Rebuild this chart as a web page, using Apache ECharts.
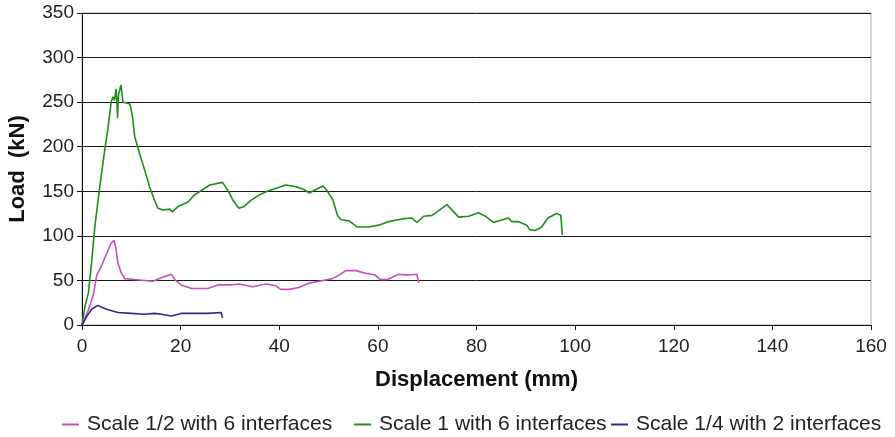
<!DOCTYPE html>
<html>
<head>
<meta charset="utf-8">
<script src="https://cdn.jsdelivr.net/npm/echarts@6/dist/echarts.min.js"></script>
<style>
  html, body { margin: 0; padding: 0; background: #ffffff; }
  #chart { width: 895px; height: 437px; }
</style>
</head>
<body>
<div id="chart"></div>
<script>
// Load–displacement curves of the three test specimens
var seriesNames = ['Scale 1/2 with 6 interfaces', 'Scale 1 with 6 interfaces', 'Scale 1/4 with 2 interfaces'];

// Scale 1/2, 6 interfaces
var halfDisp = [0, 1.3, 2.3, 3.0, 4.0, 5.0, 5.9, 6.5, 6.8, 7.3, 8.0, 8.7, 10.7, 12.7, 14.4, 16.1, 18.1, 18.8, 20.1, 22.2, 25.5, 27.5, 30.2, 31.9, 34.6, 37.3, 39.3, 40.3, 42, 44, 46.1, 48.1, 50.8, 52.1, 53.5, 55.5, 57.5, 59.5, 60.5, 61.9, 64.2, 66.3, 67.9, 68.3];
var halfLoad = [0, 17, 34, 56, 67, 80, 92, 95, 88, 69, 58, 52, 51, 50, 49, 53, 57, 51, 45, 41, 41, 45, 45, 46, 43, 46, 44, 40, 40, 42, 47, 49, 52, 56, 61, 61, 58, 56, 51, 51, 57, 56, 57, 47];

// Scale 1, 6 interfaces
var fullDisp = [0, 0.6, 1.3, 2.0, 2.6, 3.6, 4.6, 5.3, 5.9, 6.3, 6.6, 6.9, 7.1, 7.2, 7.4, 7.9, 8.3, 9.0, 9.7, 10.2, 10.7, 11.7, 12.7, 13.7, 14.7, 15.4, 16.4, 17.8, 18.3, 19.5, 21.5, 22.8, 24.5, 25.9, 28.5, 28.9, 29.8, 30.6, 31.8, 32.9, 34.3, 36, 38, 39.7, 41.3, 43.4, 45, 46.1, 47.4, 48.9, 49.8, 50.9, 51.8, 52.5, 54.1, 55.8, 58.2, 60.2, 62.2, 64.9, 66.9, 67.9, 69.3, 71, 74, 76.4, 78.4, 80.4, 81.8, 83.4, 86.5, 87.1, 88.5, 90.2, 90.8, 91.9, 93.2, 94.5, 96.2, 97.1, 97.4];
var fullLoad = [0, 21, 36, 73, 110, 155, 196, 222, 250, 256, 252, 265, 250, 232, 258, 269, 250, 249, 248, 235, 211, 192, 174, 155, 140, 131, 129, 130, 127, 133, 138, 146, 152, 157, 160, 161, 149, 140, 131, 133, 140, 146, 151, 154, 157, 155, 152, 148, 152, 156, 150, 140, 123, 118, 117, 110, 110, 112, 116, 119, 120, 115, 122, 123, 135, 121, 122, 126, 122, 115, 120, 116, 116, 112, 107, 106, 110, 120, 125, 123, 101];

// Scale 1/4, 2 interfaces
var quarterDisp = [0, 1.0, 2.0, 3.2, 4.0, 5.3, 7.3, 10, 12.7, 14.7, 16.1, 18.1, 20.1, 22.8, 25.5, 28.2, 28.5];
var quarterLoad = [0, 10, 18, 22, 20, 17, 14, 13, 12, 13, 12, 10, 13, 13, 13, 14, 8];

var xTicks = { min: 0, max: 160, step: 20 };
var yTicks = { min: 0, max: 350, step: 50 };

function pairs(xs, ys) {
  return xs.map(function (x, i) { return [x, ys[i]]; });
}

var colors = ['#c84fbe', '#1e8c1e', '#2b2b8c'];
var fontFamily = '"Liberation Sans", Arial, Helvetica, sans-serif';

function legendAt(name, left) {
  return {
    data: [name],
    left: left,
    top: 414,
    icon: 'rect',
    itemWidth: 17,
    itemHeight: 2,
    padding: 0,
    textStyle: { fontFamily: fontFamily, fontSize: 21, color: '#222', padding: [0, 0, 0, 3] }
  };
}

var chart = echarts.init(document.getElementById('chart'), null, { renderer: 'canvas' });

chart.setOption({
  animation: false,
  color: colors,
  grid: {
    left: 82, right: 24, top: 13, bottom: 112,
    outerBoundsMode: 'none',
    containLabel: false,
    show: true, borderColor: '#a8a8a8', borderWidth: 1
  },
  legend: [
    legendAt(seriesNames[0], 62),
    legendAt(seriesNames[1], 354),
    legendAt(seriesNames[2], 611)
  ],
  xAxis: {
    type: 'value',
    min: xTicks.min, max: xTicks.max, interval: xTicks.step,
    name: 'Displacement (mm)',
    nameLocation: 'middle',
    nameGap: 44,
    nameTextStyle: { fontFamily: fontFamily, fontSize: 22, fontWeight: 'bold', color: '#111' },
    axisLine: { lineStyle: { color: '#111', width: 1 } },
    axisTick: { show: true, length: 5, lineStyle: { color: '#111' } },
    axisLabel: { fontFamily: fontFamily, fontSize: 19, color: '#222', margin: 12 },
    splitLine: { show: false }
  },
  yAxis: {
    type: 'value',
    min: yTicks.min, max: yTicks.max, interval: yTicks.step,
    name: 'Load  (kN)',
    nameLocation: 'middle',
    nameGap: 53,
    nameTextStyle: { fontFamily: fontFamily, fontSize: 22, fontWeight: 'bold', color: '#111' },
    axisLine: { show: true, lineStyle: { color: '#111', width: 1 } },
    axisTick: { show: true, length: 5, lineStyle: { color: '#111' } },
    axisLabel: { fontFamily: fontFamily, fontSize: 19, color: '#222', margin: 8 },
    splitLine: { show: true, lineStyle: { color: '#1a1a1a', width: 1 } }
  },
  series: [
    {
      name: seriesNames[0], type: 'line', showSymbol: false,
      data: pairs(halfDisp, halfLoad),
      lineStyle: { width: 1.6, color: colors[0] }, z: 3
    },
    {
      name: seriesNames[1], type: 'line', showSymbol: false,
      data: pairs(fullDisp, fullLoad),
      lineStyle: { width: 1.6, color: colors[1] }, z: 2
    },
    {
      name: seriesNames[2], type: 'line', showSymbol: false,
      data: pairs(quarterDisp, quarterLoad),
      lineStyle: { width: 1.6, color: colors[2] }, z: 4
    }
  ]
});
</script>
</body>
</html>
